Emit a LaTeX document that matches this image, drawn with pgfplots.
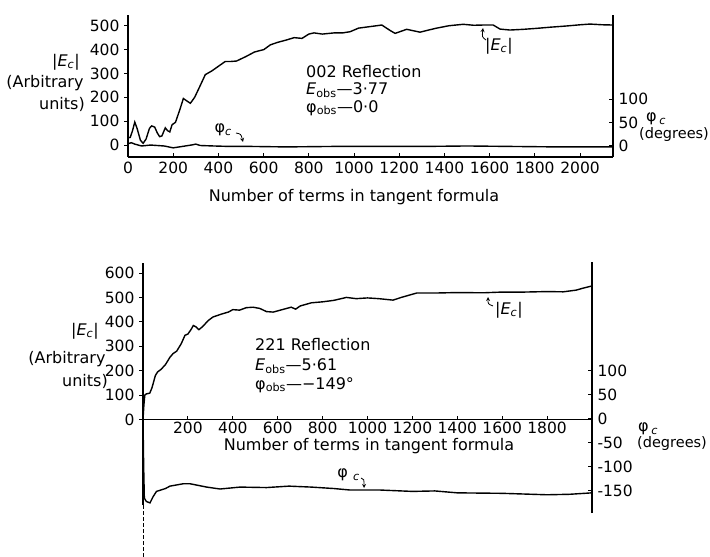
\documentclass[border=0pt]{standalone}
\usepackage{fontspec}
\setmainfont{DejaVu Sans}
\usepackage{pgfplots}
\pgfplotsset{compat=1.18}

\pgfplotstableread{
n E
0 30
10 32
20 60
30 96
40 70
55 20
67 7
80 25
95 70
105 80
118 75
130 50
140 35
150 38
165 72
175 60
185 55
195 85
210 95
230 150
245 195
260 185
276 175
295 200
320 250
342 295
370 310
400 330
430 350
453 350
480 352
520 370
560 390
601 400
630 420
661 430
700 440
735 450
770 447
800 465
823 470
860 465
912 470
950 470
983 475
1020 490
1060 495
1100 500
1123 503
1160 480
1182 468
1233 485
1292 473
1330 482
1366 490
1420 500
1483 506
1530 502
1572 503
1616 503
1646 486
1690 482
1750 485
1808 489
1870 494
1941 499
2000 504
2044 507
2100 504
2146 503
}\topE

\pgfplotstableread{
n P
0 5
15 7
30 4
60 0
100 2
130 1
160 0
200 -4
240 -1
280 2
300 4
320 1
380 0
450 -1
550 -1
700 -2
900 -1
1100 -1
1300 -1
1500 0
1700 -1
1900 -2
2146 -2
}\topP

\pgfplotstableread{
n E
0 0
4 60
8 100
15 105
30 108
40 130
55 180
65 195
80 205
100 225
120 255
134 270
150 280
170 310
187 345
200 350
215 370
224 385
235 380
249 368
265 380
290 405
312 420
350 432
380 440
400 450
430 448
460 458
490 460
520 455
550 442
580 440
620 450
660 460
680 452
700 465
750 478
800 482
850 488
906 500
950 495
1000 498
1050 495
1114 489
1150 500
1219 518
1300 518
1400 520
1515 519
1600 522
1700 522
1800 524
1872 523
1930 530
1960 538
2000 547
}\botE

\pgfplotstableread{
n P
0 0
3 -100
6 -165
15 -172
31 -175
45 -162
60 -151
80 -148
100 -145
120 -140
180 -135
209 -135
284 -142
343 -146
432 -142
550 -143
650 -140
750 -142
850 -145
920 -148
1050 -148
1200 -151
1300 -150
1400 -154
1600 -155
1800 -158
1900 -157
2000 -154
}\botP

\pgfplotsset{
  every axis/.append style={
    scale only axis,
    clip=false,
    axis line style={-, line width=1.2bp},
    tick style={black, line width=1bp},
    major tick length=4bp,
    tick label style={font=\fontsize{15.5bp}{18bp}\selectfont},
    /pgf/number format/assume math mode=true,
    /pgf/number format/1000 sep={},
  },
  curve/.style={black, line width=1.4bp, no markers},
  noarrows/.style={
    every inner x axis line/.append style={-},
    every outer x axis line/.append style={-},
    every inner y axis line/.append style={-},
    every outer y axis line/.append style={-},
    x axis line style={-}, y axis line style={-},
  },
}

\begin{document}
\fontsize{16bp}{19bp}\selectfont
\begin{tikzpicture}
% ---------------- top panel ----------------
\begin{axis}[
  at={(128bp,-157bp)}, anchor=south west,
  width=485bp, height=142bp,
  xmin=0, xmax=2146, ymin=-50.3, ymax=545,
  axis x line*=bottom, axis y line*=left, noarrows,
  xtick={0,200,...,2000}, ytick={0,100,...,500},
  xtick align=inside, ytick align=outside,
  xticklabel style={yshift=1bp},
  yticklabel style={xshift=1bp},
]
\addplot[curve] table[x=n,y=E] {\topE};
\end{axis}
\begin{axis}[
  at={(128bp,-157bp)}, anchor=south west,
  width=485bp, height=142bp,
  xmin=0, xmax=2146, ymin=-23.6, ymax=280.5,
  axis x line=none, axis y line*=right, noarrows,
  ytick={0,50,100}, ytick align=inside,
]
\addplot[curve] table[x=n,y=P] {\topP};
\end{axis}

% ---------------- bottom panel ----------------
\begin{axis}[
  at={(143bp,-505bp)}, anchor=south west,
  width=449bp, height=242bp,
  xmin=0, xmax=2000, ymin=-350, ymax=641,
  axis x line=middle, axis y line=left, noarrows,
  xtick={200,400,...,1800}, ytick={0,100,...,600},
  xtick align=inside, ytick align=outside,
  hide obscured x ticks=false, hide obscured y ticks=false,
  xticklabel style={anchor=north, yshift=3.5bp},
  yticklabel style={xshift=1bp},
]
\addplot[curve] table[x=n,y=E] {\botE};
\draw[line width=0.8bp, dash pattern=on 4bp off 2bp] (axis cs:0,-350) -- (axis cs:0,-563);
\end{axis}
\begin{axis}[
  at={(143bp,-513bp)}, anchor=south west,
  width=449bp, height=251bp,
  xmin=0, xmax=2000, ymin=-196, ymax=327,
  axis x line=none, axis y line*=right, noarrows,
  ytick={-150,-100,...,100}, ytick align=inside,
]
\addplot[curve] table[x=n,y=P] {\botP};
\end{axis}

% ---------------- labels ----------------
% top
\node at (66bp,-62bp) {|\textit{E}\textsubscript{\textit{c}}|};
\node at (45bp,-83bp) {(Arbitrary};
\node at (62bp,-104bp) {units)};
\node[anchor=west, inner sep=0pt] at (646bp,-119bp) {φ\,\textsubscript{\textit{c}}};
\node[anchor=west, inner sep=0pt] at (639bp,-134bp) {\fontsize{14.5bp}{17bp}\selectfont(degrees)};
\node at (354bp,-197bp) {Number of terms in tangent formula};
\node[anchor=west, inner sep=0pt] at (306bp,-72bp) {002 Reflection};
\node[anchor=west, inner sep=0pt] at (306bp,-90bp) {\textit{E}\textsubscript{obs}—3·77};
\node[anchor=west, inner sep=0pt] at (306bp,-108bp) {φ\textsubscript{obs}—0·0};
\node[anchor=east, inner sep=0pt] at (232bp,-130bp) {φ\textsubscript{\textit{c}}};
\draw[line width=0.8bp, ->, >=stealth] (236bp,-133bp) .. controls (241bp,-134bp) .. (243bp,-142bp);
\node at (499bp,-46bp) {|\textit{E}\textsubscript{\textit{c}}|};
\draw[line width=0.8bp, ->, >=stealth] (486bp,-40bp) .. controls (482bp,-37bp) .. (483bp,-28bp);
% bottom
\node at (85bp,-331bp) {|\textit{E}\textsubscript{\textit{c}}|};
\node at (67bp,-359bp) {(Arbitrary};
\node at (85bp,-381bp) {units)};
\node[anchor=west, inner sep=0pt] at (638bp,-429bp) {φ\,\textsubscript{\textit{c}}};
\node[anchor=west, inner sep=0pt] at (637bp,-443bp) {\fontsize{14.5bp}{17bp}\selectfont(degrees)};
\node at (369bp,-446bp) {Number of terms in tangent formula};
\node[anchor=west, inner sep=0pt] at (255bp,-345bp) {221 Reflection};
\node[anchor=west, inner sep=0pt] at (255bp,-366bp) {\textit{E}\textsubscript{obs}—5·61};
\node[anchor=west, inner sep=0pt] at (255bp,-385bp) {φ\textsubscript{obs}—−149°};
\node[anchor=east, inner sep=0pt] at (360bp,-475bp) {φ\,\,\textsubscript{\textit{c}}};
\draw[line width=0.8bp, ->, >=stealth] (361bp,-478bp) .. controls (364bp,-479bp) .. (364bp,-488bp);
\node at (509bp,-310bp) {|\textit{E}\textsubscript{\textit{c}}|};
\draw[line width=0.8bp, ->, >=stealth] (493bp,-306bp) .. controls (488bp,-304bp) .. (488bp,-297bp);

\pgfresetboundingbox
\path[use as bounding box] (0bp,0bp) rectangle (710bp,-557bp);
\end{tikzpicture}
\end{document}
